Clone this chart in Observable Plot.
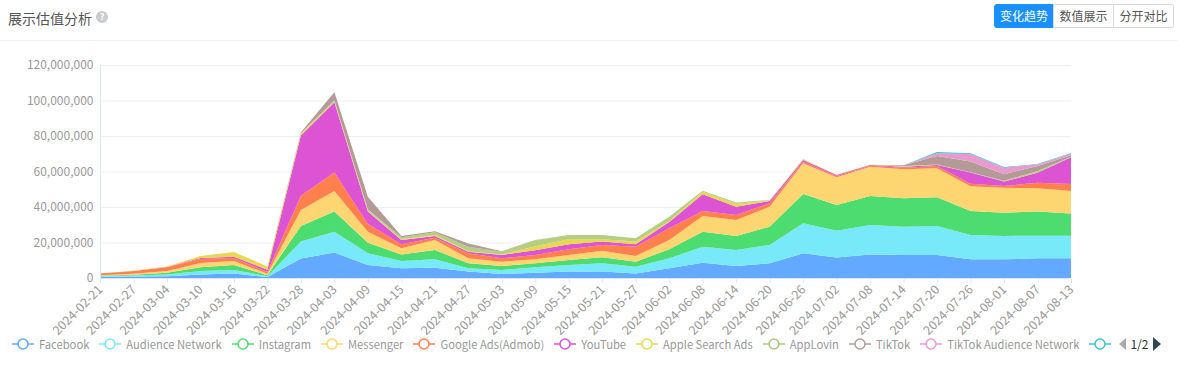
<!DOCTYPE html>
<html>
<head>
<meta charset="utf-8">
<script src="https://cdn.jsdelivr.net/npm/d3@7"></script>
<script src="https://cdn.jsdelivr.net/npm/@observablehq/plot@0.6"></script>
<style>
  html, body { margin: 0; padding: 0; background: #fff; }
  body { width: 1178px; height: 365px; position: relative; overflow: hidden;
         font-family: "Noto Sans CJK SC", "Noto Sans", sans-serif; }
  #title { position: absolute; left: 8px; top: 8px; font-size: 14px; line-height: 20px; color: #555; }
  #qicon { position: absolute; left: 96px; top: 11px; width: 12px; height: 12px; border-radius: 6px;
           background: #c8cbd0; color: #fff; font-size: 9px; line-height: 12px; text-align: center; font-weight: bold; }
  #divider { position: absolute; left: 0; top: 40px; width: 1178px; height: 1px; background: #f0f0f0; }
  #btns { position: absolute; left: 994px; top: 4px; display: flex; width: max-content; white-space: nowrap; }
  #btns div { flex: none; box-sizing: border-box; height: 24px; line-height: 22px; text-align: center; font-size: 12px; color: #555;
              border: 1px solid #d9d9d9; background: #fff; margin-left: -1px; }
  #btns div.active { background: #1890ff; border-color: #1890ff; color: #fff; border-radius: 3px 0 0 3px; margin-left: 0; }
  #btns div.last { border-radius: 0 3px 3px 0; }
  #chart { position: absolute; left: 0; top: 45px; }
  #chart svg g[aria-label="x-axis tick label"] { font-size: 12.5px; }
  #legend { position: absolute; left: 12px; top: 337px; display: flex; align-items: center; font-size: 11.2px; line-height: 14px; color: #999; white-space: nowrap; width: max-content; }
  .item { display: flex; align-items: center; margin-right: 10px; flex: none; }
  .item svg { margin-right: 5px; }
  #nav { display: flex; align-items: center; color: #333; font-size: 12px; }
  #nav .prev { width: 0; height: 0; border-top: 6px solid transparent; border-bottom: 6px solid transparent; border-right: 7px solid #aaa; margin-right: 4px; }
  #nav .next { width: 0; height: 0; border-top: 7px solid transparent; border-bottom: 7px solid transparent; border-left: 8px solid #2f4554; margin-left: 5px; }
</style>
</head>
<body>
<div id="title">展示估值分析</div>
<div id="qicon">?</div>
<div id="divider"></div>
<div id="btns"><div class="active" style="width:60px">变化趋势</div><div style="width:61px">数值展示</div><div class="last" style="width:61px">分开对比</div></div>
<div id="chart"></div>
<div id="legend"></div>
<script>
// ---- data (values in millions) ----
const dates = ["2024-02-21","2024-02-27","2024-03-04","2024-03-10","2024-03-16","2024-03-22","2024-03-28","2024-04-03","2024-04-09","2024-04-15","2024-04-21","2024-04-27","2024-05-03","2024-05-09","2024-05-15","2024-05-21","2024-05-27","2024-06-02","2024-06-08","2024-06-14","2024-06-20","2024-06-26","2024-07-02","2024-07-08","2024-07-14","2024-07-20","2024-07-26","2024-08-01","2024-08-07","2024-08-13"];

const facebook        = [0.5,0.8,1.0,2.0,2.5,0.5,11,14.3,7.3,5.5,5.8,3.6,2.3,3.0,3.6,3.6,2.6,5.5,8.6,6.8,8.3,13.9,11.6,13.3,13.0,13.0,10.5,10.5,11.1,11.1];
const audienceNetwork = [0.5,0.6,1.0,2.0,2.0,0.5,9.5,11.8,6.6,4.1,4.7,1.9,2.2,3.0,3.7,4.7,3.8,5.6,9.0,9.0,10.3,16.9,15.0,16.6,15.9,16.3,13.7,13.2,12.7,12.7];
const instagram       = [0.3,0.5,1.0,2.0,2.8,0.6,8.8,11.3,6.0,3.7,5.3,2.8,2.3,2.3,2.8,3.4,2.8,5.1,8.5,7.9,10.3,16.5,14.5,16.3,16.0,16.2,13.5,13.1,13.6,12.6];
const messenger       = [0.3,0.5,1.0,2.5,2.3,0.8,9.0,11.6,6.2,3.4,5.6,2.8,2.4,2.2,2.9,3.7,3.2,5.2,8.8,9.0,11.3,17.3,15.6,16.5,16.3,16.3,14.0,14.1,13.1,12.6];
const googleAds       = [1.0,1.5,2.0,2.2,1.7,1.0,8.0,10.5,4.3,2.3,1.3,2.8,1.9,2.5,3.2,3.2,5.2,6.6,2.8,2.8,1.9,0.9,0.8,0.6,0.9,1.3,1.4,0.9,3.2,4.0];
const youtube         = [0,0.1,0.2,0.6,0.7,1.2,34,39.5,7.0,2.4,1.0,0.9,1.9,2.6,2.8,1.9,1.4,3.5,9.5,4.7,1.3,1.0,0.5,0.4,0.6,0.6,6.3,2.5,5.6,15.0];
const appleSearchAds  = [0,0.1,0.3,1.1,2.6,1.9,0.8,0.5,0.5,0.5,0.5,0.3,0.3,2.3,2.8,1.3,1.5,0.5,1.4,1.5,0.3,0.3,0.2,0.1,0.2,0,0,0,0,0];
const appLovin        = [0,0,0,0,0,0,0.5,0.7,0.8,1.0,1.6,2.5,1.5,3.3,2.4,2.4,1.9,2.5,0.6,0.9,0.3,0.2,0,0,0.2,0.2,0.2,0.5,1.0,0.3];
const tiktok          = [0,0,0,0,0,0,0.5,4.5,7.1,0.8,0.5,1.9,0.3,0.2,0,0,0,0,0,0,0,0,0,0,0.4,4.8,6.0,3.6,2.8,0.8];
const tiktokAN        = [0,0,0,0,0,0,0,0,0,0,0,0,0,0,0,0,0,0,0,0,0,0,0,0,0,1.6,4.2,3.7,0.9,1.0];
const page2Series     = [0,0,0,0,0,0,0,0,0,0,0,0,0,0,0,0,0,0,0,0,0,0,0,0,0,0.7,0.5,0.4,0.2,0.3];

const seriesNames  = ["Facebook","Audience Network","Instagram","Messenger","Google Ads(Admob)","YouTube","Apple Search Ads","AppLovin","TikTok","TikTok Audience Network",""];
const seriesValues = [facebook,audienceNetwork,instagram,messenger,googleAds,youtube,appleSearchAds,appLovin,tiktok,tiktokAN,page2Series];
const seriesColors = ["#62a9ff","#78e9f8","#4cdc70","#fdd672","#ff7f4d","#dc53d4","#e8d84e","#b5cf80","#b39a96","#e99ad0","#3cc3c8"];
const legendLine   = ["#5fa8ff","#7ae8f8","#4cdc70","#fdd672","#ff7f4d","#dc53d4","#e8d84e","#a8c77a","#b39a96","#e99ad0","#3cc3c8"];
const yTicks = [0,20e6,40e6,60e6,80e6,100e6,120e6];

// ---- build table ----
const parse = d3.utcParse("%Y-%m-%d");
const dateObjs = dates.map(parse);
const table = [];
seriesValues.forEach((vals, s) => {
  vals.forEach((v, i) => table.push({date: dateObjs[i], series: seriesNames[s] || "series11", value: v * 1e6}));
});
const domainNames = seriesNames.map((n) => n || "series11");

const chart = Plot.plot({
  width: 1178,
  height: 300,
  marginLeft: 100,
  marginRight: 107,
  marginTop: 20,
  marginBottom: 67,
  style: {fontFamily: '"Noto Sans CJK SC", "Noto Sans", sans-serif', fontSize: "12px", background: "transparent", overflow: "visible"},
  x: {type: "utc", domain: [dateObjs[0], dateObjs[dateObjs.length - 1]]},
  y: {domain: [0, 120e6]},
  color: {domain: domainNames, range: seriesColors},
  marks: [
    Plot.gridY({ticks: yTicks, stroke: "#eeeeee", strokeOpacity: 1}),
    Plot.areaY(table, {x: "date", y: "value", fill: "series", z: "series", order: domainNames, curve: "linear"}),
    Plot.ruleY([0], {stroke: "#e0e6f1"}),
    Plot.ruleX([dateObjs[0]], {stroke: "#e0e6f1"}),
    Plot.axisY({ticks: yTicks, tickFormat: d3.format(","), tickSize: 0, tickPadding: 7, fill: "#999", stroke: "none", label: null}),
    Plot.axisX({ticks: dateObjs, tickFormat: d3.utcFormat("%Y-%m-%d"), tickRotate: -45, tickSize: 5, tickPadding: 4, stroke: "#e0e6f1", fill: "#999", label: null})
  ]
});
document.getElementById("chart").appendChild(chart);

// ---- legend ----
const legend = document.getElementById("legend");
seriesNames.forEach((name, i) => {
  const item = document.createElement("div");
  item.className = "item";
  const c = legendLine[i];
  item.innerHTML = `<svg width="22" height="14"><line x1="0" y1="7" x2="22" y2="7" stroke="${c}" stroke-width="1.5"/><circle cx="11" cy="7" r="5" fill="#fff" stroke="${c}" stroke-width="1.5"/></svg>` + (name ? `<span>${name}</span>` : "");
  if (!name) { item.style.marginRight = "8px"; item.querySelector("svg").style.marginRight = "0"; }
  legend.appendChild(item);
});
const nav = document.createElement("div");
nav.id = "nav";
nav.innerHTML = `<div class="prev"></div><span>1/2</span><div class="next"></div>`;
legend.appendChild(nav);
</script>
</body>
</html>
